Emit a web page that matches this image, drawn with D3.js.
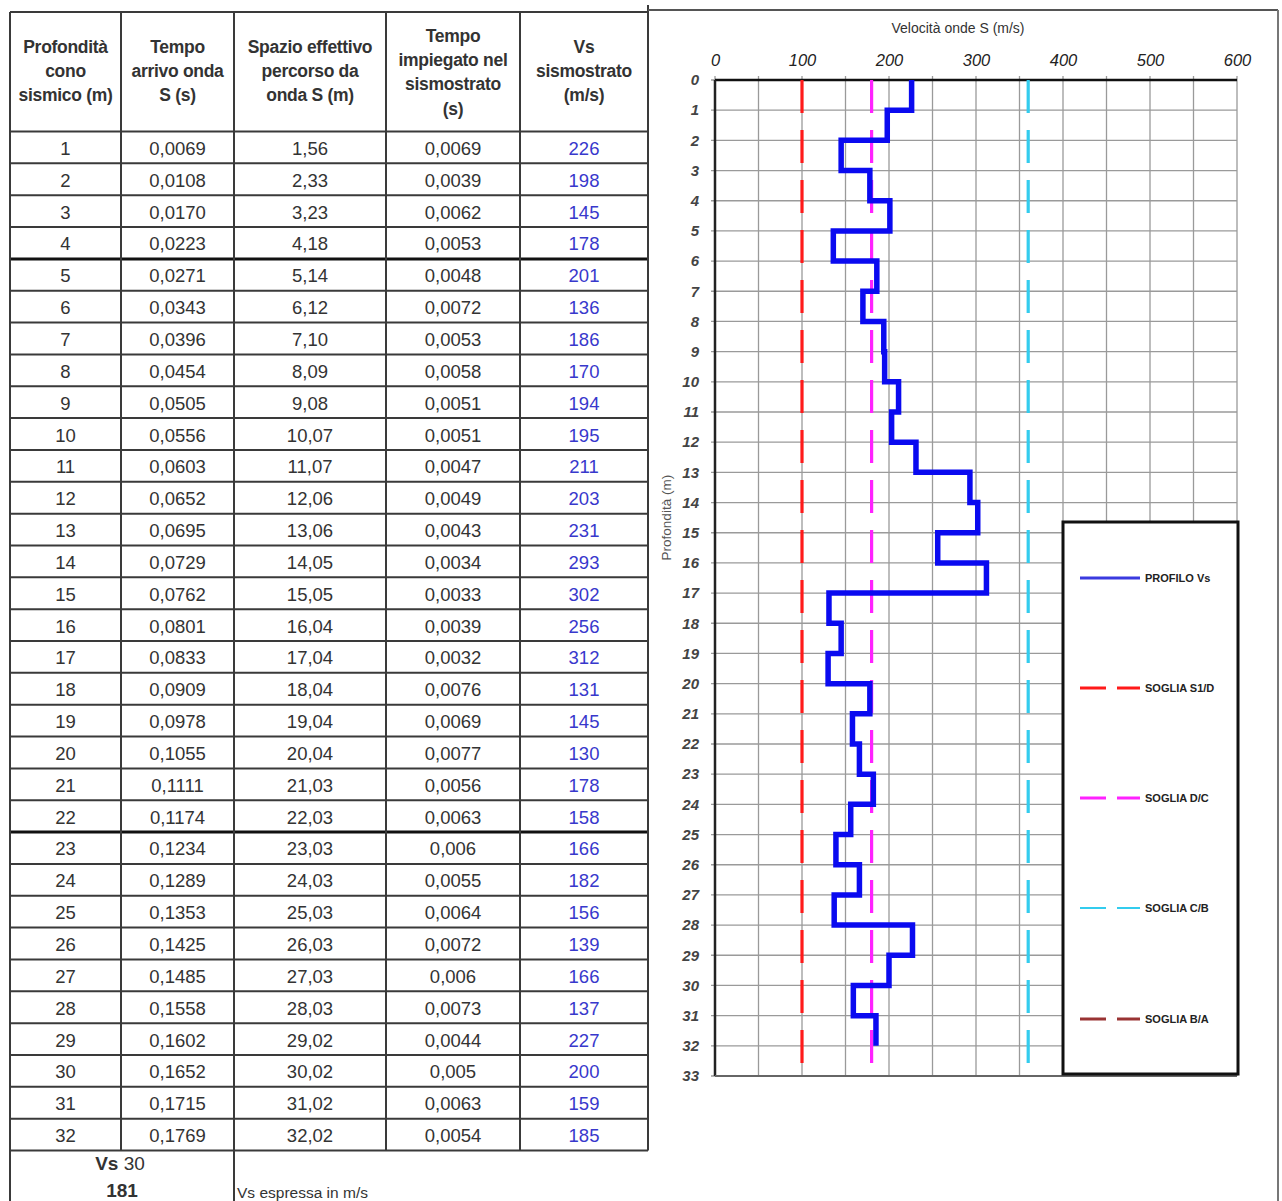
<!DOCTYPE html>
<html><head><meta charset="utf-8">
<script src="https://cdn.jsdelivr.net/npm/d3@7"></script>
<style>body{margin:0;background:#fff} svg{display:block} text{font-family:"Liberation Sans",Arial,sans-serif}</style>
</head><body><svg id="c" width="1282" height="1201"></svg>
<script>
// ---------- data ----------
const depths = [1,2,3,4,5,6,7,8,9,10,11,12,13,14,15,16,17,18,19,20,21,22,23,24,25,26,27,28,29,30,31,32];
const arrivalTimes = ["0,0069","0,0108","0,0170","0,0223","0,0271","0,0343","0,0396","0,0454","0,0505","0,0556","0,0603","0,0652","0,0695","0,0729","0,0762","0,0801","0,0833","0,0909","0,0978","0,1055","0,1111","0,1174","0,1234","0,1289","0,1353","0,1425","0,1485","0,1558","0,1602","0,1652","0,1715","0,1769"];
const pathLengths = ["1,56","2,33","3,23","4,18","5,14","6,12","7,10","8,09","9,08","10,07","11,07","12,06","13,06","14,05","15,05","16,04","17,04","18,04","19,04","20,04","21,03","22,03","23,03","24,03","25,03","26,03","27,03","28,03","29,02","30,02","31,02","32,02"];
const layerTimes = ["0,0069","0,0039","0,0062","0,0053","0,0048","0,0072","0,0053","0,0058","0,0051","0,0051","0,0047","0,0049","0,0043","0,0034","0,0033","0,0039","0,0032","0,0076","0,0069","0,0077","0,0056","0,0063","0,006","0,0055","0,0064","0,0072","0,006","0,0073","0,0044","0,005","0,0063","0,0054"];
const vsValues = [226,198,145,178,201,136,186,170,194,195,211,203,231,293,302,256,312,131,145,130,178,158,166,182,156,139,166,137,227,200,159,185];
const headers = [
  ["Profondità","cono","sismico (m)"],
  ["Tempo","arrivo onda","S (s)"],
  ["Spazio effettivo","percorso da","onda S (m)"],
  ["Tempo","impiegato nel","sismostrato","(s)"],
  ["Vs","sismostrato","(m/s)"]
];
const vs30 = 181;
const thresholdNames = ["SOGLIA S1/D","SOGLIA D/C","SOGLIA C/B","SOGLIA B/A"];
const thresholdValues = [100,180,360,800];
const thresholdColors = ["#ff1a1a","#ff22ff","#33ccee","#993333"];
const xTickValues = [0,100,200,300,400,500,600];
const xGridValues = [0,50,100,150,200,250,300,350,400,450,500,550,600];
const yTickValues = [0,1,2,3,4,5,6,7,8,9,10,11,12,13,14,15,16,17,18,19,20,21,22,23,24,25,26,27,28,29,30,31,32,33];
const thickAfterRows = [4,22];

// ---------- svg ----------
const svg = d3.select("#c");
const lineCol = "#3a3a3a";

// ---------- table ----------
const colX = [10,121,234,386,520,648];
const rowY = d3.scaleLinear([0,32],[131.5,1150.5]);
const headTop = 12;
const tbl = svg.append("g");

// header text
headers.forEach((lines,ci)=>{
  const cx = (colX[ci]+colX[ci+1])/2;
  const start = lines.length===4 ? 36 : 47;
  lines.forEach((t,li)=>{
    tbl.append("text").attr("x",cx).attr("y",start+li*24.2)
      .attr("text-anchor","middle").attr("dominant-baseline","central")
      .attr("font-size",17.5).attr("font-weight","bold").attr("fill","#333")
      .attr("letter-spacing",-0.3).text(t);
  });
});

// rows
const cols = [depths.map(String), arrivalTimes, pathLengths, layerTimes, vsValues.map(String)];
depths.forEach((d,ri)=>{
  const cy = (rowY(ri)+rowY(ri+1))/2 + 1;
  cols.forEach((col,ci)=>{
    tbl.append("text").attr("x",(colX[ci]+colX[ci+1])/2).attr("y",cy)
      .attr("text-anchor","middle").attr("dominant-baseline","central")
      .attr("font-size",18.5).attr("fill", ci===4 ? "#3838cc" : "#333").text(col[ri]);
  });
});

// horizontal lines
tbl.append("line").attr("x1",colX[0]).attr("x2",colX[5]).attr("y1",headTop).attr("y2",headTop)
  .attr("stroke",lineCol).attr("stroke-width",2);
d3.range(0,33).forEach(i=>{
  const thick = thickAfterRows.includes(i);
  tbl.append("line").attr("x1",colX[0]).attr("x2",colX[5]).attr("y1",rowY(i)).attr("y2",rowY(i))
    .attr("stroke", thick ? "#111" : lineCol).attr("stroke-width", thick ? 3 : 2);
});
// vertical lines
colX.forEach((x,i)=>{
  tbl.append("line").attr("x1",x).attr("x2",x)
    .attr("y1", i===5 ? 5 : headTop).attr("y2", i===0 ? 1201 : rowY(32))
    .attr("stroke",lineCol).attr("stroke-width",2);
});
tbl.append("line").attr("x1",234).attr("x2",234).attr("y1",rowY(32)).attr("y2",1201)
  .attr("stroke",lineCol).attr("stroke-width",2);

// footer
const ft = tbl.append("text").attr("x",120).attr("y",1163).attr("text-anchor","middle")
  .attr("dominant-baseline","central").attr("font-size",19).attr("fill","#333");
ft.append("tspan").attr("font-weight","bold").text("Vs ");
ft.append("tspan").text(" 30");
tbl.append("text").attr("x",122).attr("y",1190).attr("text-anchor","middle")
  .attr("dominant-baseline","central").attr("font-size",19).attr("font-weight","bold").attr("fill","#333").text(vs30);
tbl.append("text").attr("x",237).attr("y",1192).attr("dominant-baseline","central")
  .attr("font-size",15.5).attr("fill","#333").text("Vs espressa in m/s");

// ---------- chart ----------
const x = d3.scaleLinear([0,600],[715,1237]);
const y = d3.scaleLinear([0,33],[80,1076]);
const ch = svg.append("g");

// outer frame
ch.append("line").attr("x1",648).attr("x2",1278).attr("y1",10).attr("y2",10).attr("stroke","#555").attr("stroke-width",2);
ch.append("line").attr("x1",1278).attr("x2",1278).attr("y1",10).attr("y2",1201).attr("stroke","#777").attr("stroke-width",2);

// gridlines
ch.selectAll(".vg").data(xGridValues).join("line")
  .attr("x1",d=>x(d)).attr("x2",d=>x(d)).attr("y1",y(0)-4).attr("y2",y(33))
  .attr("stroke","#9a9a9a").attr("stroke-width",1.3);
ch.selectAll(".hg").data(yTickValues).join("line")
  .attr("x1",x(0)-4).attr("x2",x(600)).attr("y1",d=>y(d)).attr("y2",d=>y(d))
  .attr("stroke","#9a9a9a").attr("stroke-width",1.3);
// borders
ch.append("line").attr("x1",x(0)).attr("x2",x(600)).attr("y1",y(0)).attr("y2",y(0)).attr("stroke","#111").attr("stroke-width",2.5);
ch.append("line").attr("x1",x(0)).attr("x2",x(0)).attr("y1",y(0)).attr("y2",y(33)).attr("stroke","#222").attr("stroke-width",2.5);
ch.append("line").attr("x1",x(0)).attr("x2",x(600)).attr("y1",y(33)).attr("y2",y(33)).attr("stroke","#666").attr("stroke-width",2);

// axes (top, left) using d3 axes, domain hidden
const xAxis = d3.axisTop(x).tickValues(xTickValues).tickSize(0).tickPadding(0);
const gx = ch.append("g").attr("transform",`translate(0,${y(0)-14})`).call(xAxis);
gx.select(".domain").remove();
gx.selectAll("text").attr("font-size",16.5).attr("font-style","italic").attr("fill","#222")
  .attr("font-family","Liberation Sans, Arial, sans-serif").attr("dy","0");
const yAxis = d3.axisLeft(y).tickValues(yTickValues).tickSize(0).tickPadding(0);
const gy = ch.append("g").attr("transform",`translate(${x(0)-16},0)`).call(yAxis);
gy.select(".domain").remove();
gy.selectAll("text").attr("font-size",15).attr("font-style","italic").attr("font-weight","bold").attr("fill","#444")
  .attr("font-family","Liberation Sans, Arial, sans-serif");

// titles
ch.append("text").attr("x",958).attr("y",28).attr("text-anchor","middle").attr("dominant-baseline","central")
  .attr("font-size",14).attr("fill","#333").text("Velocità onde S (m/s)");
ch.append("text").attr("transform",`translate(666,${y(14.5)}) rotate(-90)`).attr("text-anchor","middle")
  .attr("dominant-baseline","central").attr("font-size",13.5).attr("fill","#555").text("Profondità (m)");

// thresholds
thresholdValues.forEach((v,i)=>{
  if (v > 600) return;
  ch.append("line").attr("x1",x(v)).attr("x2",x(v)).attr("y1",y(0)).attr("y2",y(33))
    .attr("stroke",thresholdColors[i]).attr("stroke-width",3.2).attr("stroke-dasharray","33,17");
});

// profile (step)
const pts = [];
vsValues.forEach((v,i)=>{ pts.push([v, depths[i]-1]); pts.push([v, depths[i]]); });
ch.append("path").datum(pts)
  .attr("d", d3.line().x(d=>x(d[0])).y(d=>y(d[1])))
  .attr("fill","none").attr("stroke","#0a0af0").attr("stroke-width",5.5).attr("stroke-linejoin","miter");

// legend
const lg = ch.append("g");
lg.append("rect").attr("x",1063).attr("y",522).attr("width",175).attr("height",552)
  .attr("fill","#fff").attr("stroke","#111").attr("stroke-width",3);
const legNames = ["PROFILO Vs"].concat(thresholdNames);
const legColors = ["#3a3adf"].concat(thresholdColors);
const legY = [578,688,798,908,1019];
legNames.forEach((n,i)=>{
  lg.append("line").attr("x1",1080).attr("x2",1140).attr("y1",legY[i]).attr("y2",legY[i])
    .attr("stroke",legColors[i]).attr("stroke-width", i===3 ? 2 : 3)
    .attr("stroke-dasharray", i===0 ? null : "26,11");
  lg.append("text").attr("x",1145).attr("y",legY[i]).attr("dominant-baseline","central")
    .attr("font-size",11).attr("font-weight","bold").attr("fill","#222").text(n);
});
</script></body></html>
